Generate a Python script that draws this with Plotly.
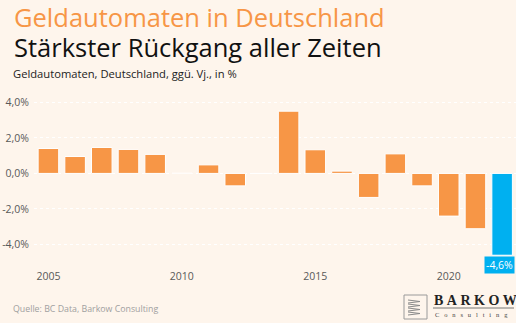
import plotly.graph_objects as go

years = list(range(2005, 2023))
change_pct = [1.40, 0.95, 1.46, 1.35, 1.07, 0.04, 0.48, -0.70, 0.0,
              3.50, 1.33, 0.13, -1.35, 1.10, -0.70, -2.40, -3.11, -4.60]
y_tickvals = [4, 2, 0, -2, -4]
y_ticktext = ["4,0%", "2,0%", "0,0%", "-2,0%", "-4,0%"]
x_tickvals = [2005, 2010, 2015, 2020]
highlight_year = 2022
highlight_label = "-4,6%"

ORANGE = "#F79646"
BLUE = "#00B0F0"
BG = "#FEF5EC"

colors = [BLUE if y == highlight_year else ORANGE for y in years]

fig = go.Figure()
fig.add_trace(go.Bar(
    x=years, y=change_pct,
    marker=dict(color=colors, line=dict(color="white", width=1)),
    hoverinfo="x+y",
))

W, H = 516, 323
ml, mr, mt, mb = 34, 0, 95, 58
pw, ph = W - ml - mr, H - mt - mb


def px(xp):
    return (xp - ml) / pw


def py(yp):
    return (H - mb - yp) / ph


font_main = "Open Sans, Noto Sans, sans-serif"
NB = "\u00a0"

annotations = [
    dict(text="Geldautomaten in Deutschland", x=px(12), y=py(17), xanchor="left", yanchor="middle",
         font=dict(family=font_main, size=25.5, color=ORANGE)),
    dict(text="Stärkster Rückgang aller Zeiten", x=px(12), y=py(47), xanchor="left", yanchor="middle",
         font=dict(family=font_main, size=25.5, color="#111111")),
    dict(text="Geldautomaten, Deutschland, ggü. Vj., in %", x=px(11), y=py(73.5), xanchor="left", yanchor="middle",
         font=dict(family=font_main, size=11.2, color="#222222")),
    dict(text="Quelle: BC Data, Barkow Consulting", x=px(11), y=py(309), xanchor="left", yanchor="middle",
         font=dict(family=font_main, size=8.8, color="#A0A0A0")),
    dict(text="<b>" + NB.join("BARKOW") + "</b>", x=px(432), y=py(300), xanchor="left", yanchor="middle",
         font=dict(family="Liberation Serif, serif", size=14, color="#222222")),
    dict(text=(NB * 3).join("Consulting"), x=px(433), y=py(314), xanchor="left", yanchor="middle",
         font=dict(family="Liberation Serif, serif", size=6.5, color="#444444")),
    dict(text=highlight_label, x=highlight_year, y=change_pct[years.index(highlight_year)],
         xref="x", yref="y", xanchor="center", yanchor="top", showarrow=False,
         bgcolor=BLUE, borderpad=1, yshift=-1, xshift=-3,
         font=dict(family=font_main, size=10.5, color="white")),
]
for a in annotations:
    a.setdefault("xref", "paper")
    a.setdefault("yref", "paper")
    a.setdefault("showarrow", False)

shapes = [
    dict(type="rect", xref="paper", yref="paper", x0=px(404), x1=px(427), y0=py(319), y1=py(295),
         line=dict(color="#9A9A9A", width=1), fillcolor="rgba(0,0,0,0)"),
    dict(type="line", xref="paper", yref="paper", x0=px(433), x1=px(514), y0=py(308), y1=py(308),
         line=dict(color="#555555", width=0.8)),
]
for a, b in [(300, 303), (304, 307), (308, 311), (312, 315)]:
    shapes.append(dict(type="path", xref="paper", yref="paper",
                       path=f"M {px(408)},{py(a)} L {px(420)},{py(a+1.5)} L {px(408)},{py(b)}",
                       line=dict(color="#8A8A8A", width=1)))

fig.update_layout(
    width=W, height=H,
    margin=dict(l=ml, r=mr, t=mt, b=mb),
    paper_bgcolor=BG, plot_bgcolor=BG,
    bargap=0.23,
    showlegend=False,
    annotations=annotations,
    shapes=shapes,
    xaxis=dict(range=[2004.46, 2022.52], tickvals=x_tickvals, showgrid=False, zeroline=False,
               ticks="", ticklabelstandoff=3,
               tickfont=dict(family=font_main, size=10.5, color="#595959")),
    yaxis=dict(range=[-5.15, 4.41], tickvals=y_tickvals, ticktext=y_ticktext,
               showgrid=True, gridcolor="white", griddash="dot", gridwidth=1,
               zeroline=False, ticks="", ticklabelstandoff=4,
               tickfont=dict(family=font_main, size=10.5, color="#595959")),
)

fig.write_html("out.html")
